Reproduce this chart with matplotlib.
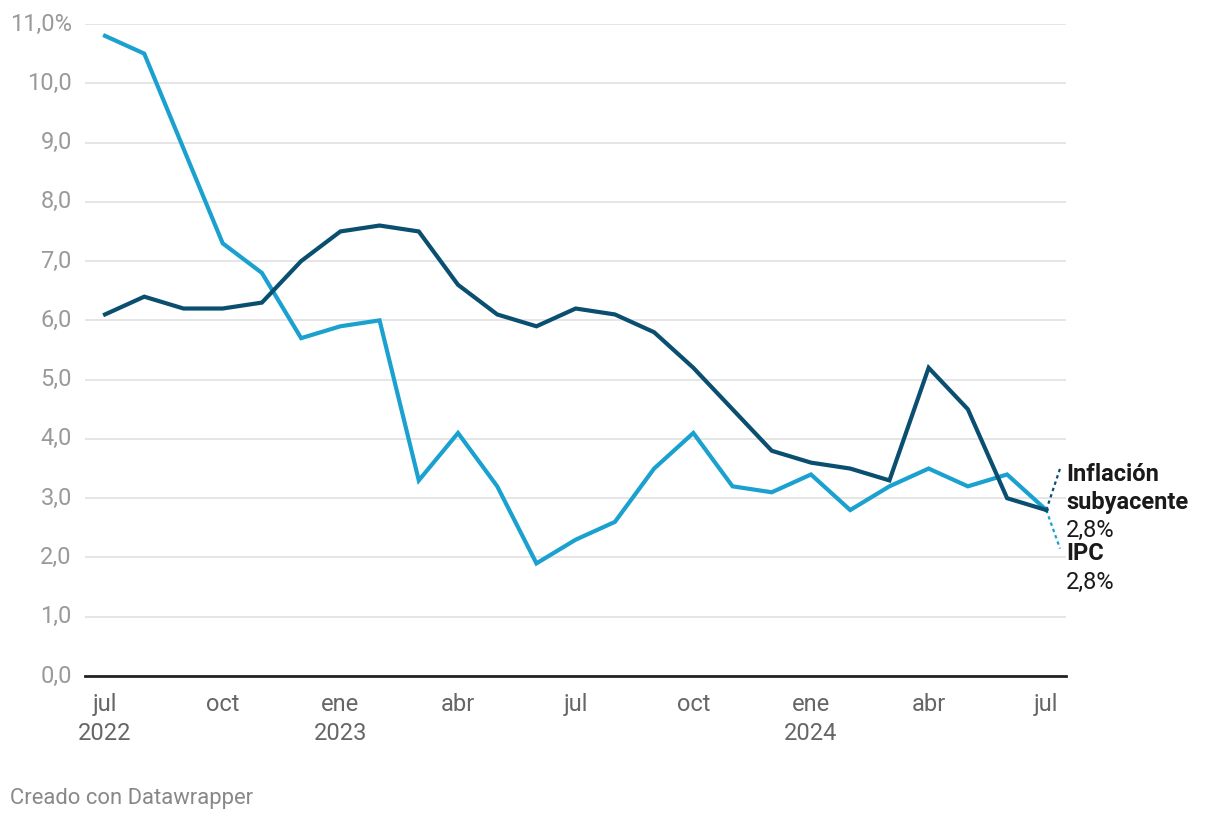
import numpy as np
import matplotlib
matplotlib.use("Agg")
from matplotlib import pyplot as plt

plt.rcParams['font.family'] = ['Roboto', 'DejaVu Sans']

# monthly data, jul 2022 .. jul 2024
months = ['jul', 'ago', 'sep', 'oct', 'nov', 'dic',
          'ene', 'feb', 'mar', 'abr', 'may', 'jun',
          'jul', 'ago', 'sep', 'oct', 'nov', 'dic',
          'ene', 'feb', 'mar', 'abr', 'may', 'jun', 'jul']
ipc = [10.8, 10.5, 8.9, 7.3, 6.8, 5.7, 5.9, 6.0, 3.3, 4.1, 3.2, 1.9,
       2.3, 2.6, 3.5, 4.1, 3.2, 3.1, 3.4, 2.8, 3.2, 3.5, 3.2, 3.4, 2.8]
subyacente = [6.1, 6.4, 6.2, 6.2, 6.3, 7.0, 7.5, 7.6, 7.5, 6.6, 6.1, 5.9,
              6.2, 6.1, 5.8, 5.2, 4.5, 3.8, 3.6, 3.5, 3.3, 5.2, 4.5, 3.0, 2.8]
tick_pos = [0, 3, 6, 9, 12, 15, 18, 21, 24]
tick_lab = ['jul\n2022', 'oct', 'ene\n2023', 'abr', 'jul', 'oct', 'ene\n2024', 'abr', 'jul']
yticks = [0, 1, 2, 3, 4, 5, 6, 7, 8, 9, 10, 11]

c_ipc = '#1aa1cf'
c_sub = '#0a4f70'

fig = plt.figure(figsize=(12.2, 8.22), dpi=100)
ax = fig.add_axes([0.0697, 0.1776, 0.804, 0.7932])

x = np.arange(len(months))
ax.plot(x, ipc, color=c_ipc, lw=3, solid_joinstyle='miter', zorder=3)
ax.plot(x, subyacente, color=c_sub, lw=3, solid_joinstyle='miter', zorder=4)

ax.set_xlim(-0.51, 24.5)
ax.set_ylim(0, 11)
ax.set_yticks(yticks)
ax.set_yticklabels([f'{v},0' if v < 11 else '11,0%' for v in yticks])
ax.set_xticks(tick_pos)
ax.set_xticklabels(tick_lab, linespacing=1.33)
ax.grid(axis='y', color='#e0e0e0', lw=1.2)
ax.set_axisbelow(True)
for s in ['top', 'right', 'left']:
    ax.spines[s].set_visible(False)
ax.spines['bottom'].set_color('#222222')
ax.spines['bottom'].set_linewidth(2)
ax.tick_params(axis='y', length=0, pad=9.5, labelsize=17, labelcolor='#9a9a9a')
ax.tick_params(axis='x', length=0, pad=12, labelsize=17, labelcolor='#666666')
for lab in ax.get_yticklabels():
    lab.set_verticalalignment('center')

# end labels with dotted connectors
xe, ye = x[-1], ipc[-1]
ax.plot([xe, xe + 0.35], [subyacente[-1], 3.5], color=c_sub, lw=1.6, ls=(0, (1.5, 1.5)), clip_on=False)
ax.plot([xe, xe + 0.35], [ye, 2.15], color=c_ipc, lw=1.6, ls=(0, (1.5, 1.5)), clip_on=False)
fs = 17
fig.text(1066 / 1220, 1 - 474 / 822, 'Inflación', fontsize=fs, fontweight='bold', color='#1a1a1a', va='center')
fig.text(1066 / 1220, 1 - 502 / 822, 'subyacente', fontsize=fs, fontweight='bold', color='#1a1a1a', va='center')
fig.text(1066 / 1220, 1 - 530 / 822, f'{subyacente[-1]:.1f}%'.replace('.', ','), fontsize=fs, color='#1a1a1a', va='center')
fig.text(1066 / 1220, 1 - 554 / 822, 'IPC', fontsize=fs, fontweight='bold', color='#1a1a1a', va='center')
fig.text(1066 / 1220, 1 - 582 / 822, f'{ipc[-1]:.1f}%'.replace('.', ','), fontsize=fs, color='#1a1a1a', va='center')

fig.text(10 / 1220, 1 - 798 / 822, 'Creado con Datawrapper', fontsize=15.8, color='#888888', va='center')

fig.savefig('out.png', dpi=100)
